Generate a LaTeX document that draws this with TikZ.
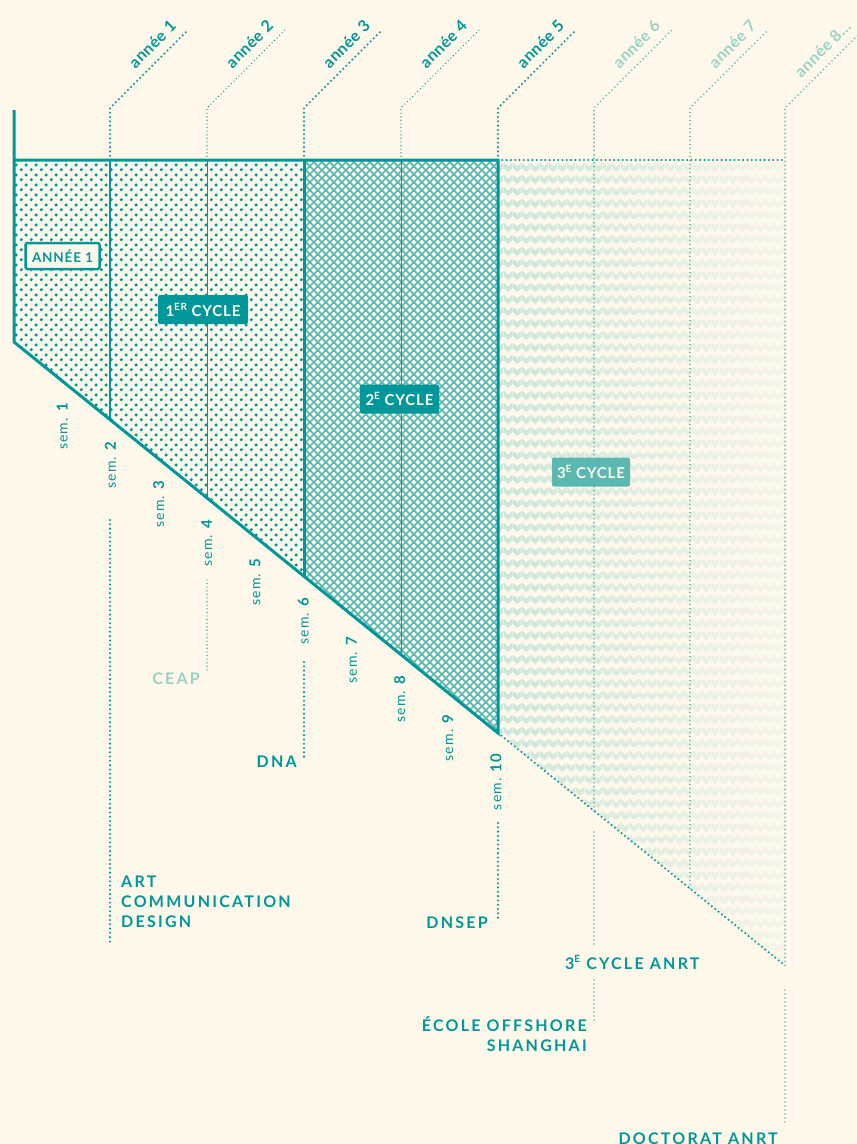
\documentclass[tikz,border=0pt]{standalone}
\usepackage{fontspec}
\setmainfont{Lato}
\newfontfamily\latoyear{Lato}[LetterSpace=3]
\newfontfamily\latosem{Lato}[LetterSpace=8]
\newfontfamily\latobox{Lato}[LetterSpace=6]
\newfontfamily\latocaps{Lato}[LetterSpace=14]
\usetikzlibrary{patterns.meta, fadings, positioning, calc}

\definecolor{cream}{HTML}{FEF8EA}
\definecolor{tealmain}{HTML}{00979A}
\definecolor{tealmid}{HTML}{5AB8B1}
\definecolor{teallight}{HTML}{9AD2C9}
\definecolor{tealpale}{HTML}{CBE6DC}

\newcommand\yearfont{\latoyear\bfseries\fontsize{16}{16}\selectfont}
\newcommand\semfont{\latosem\fontsize{14}{14}\selectfont}
\newcommand\boxfont{\latobox\bfseries\fontsize{15}{15}\selectfont}
\newcommand\diplofont{\latocaps\bfseries\fontsize{16}{20}\selectfont}
\newcommand\supx[1]{\raisebox{0.4em}{\fontsize{10}{10}\selectfont #1}}

% pattern tiles
\tikzdeclarepattern{
  name=dotgrid, type=uncolored,
  bottom left={(0pt,0pt)}, top right={(9.7pt,9.7pt)},
  tile size={(9.7pt,9.7pt)},
  code={\fill (2.4pt,2.4pt) circle (1.8pt); \fill (7.25pt,7.25pt) circle (1.8pt);}
}
\tikzdeclarepattern{
  name=diamonds, type=uncolored,
  bottom left={(0pt,0pt)}, top right={(8.3pt,8.3pt)},
  tile size={(8.3pt,8.3pt)},
  code={\draw[line width=1.9pt] (-1pt,-1pt) -- (9.3pt,9.3pt) (-1pt,9.3pt) -- (9.3pt,-1pt);}
}
\tikzdeclarepattern{
  name=chevrons, type=uncolored,
  bottom left={(0pt,0pt)}, top right={(8.7pt,12pt)},
  tile size={(8.7pt,12pt)},
  code={\fill (0pt,10pt) -- (4.35pt,6pt) -- (8.7pt,10pt) -- (8.7pt,4pt) -- (4.35pt,0pt) -- (0pt,4pt) -- cycle;}
}
\tikzfading[name=fadein, left color=transparent!100, right color=transparent!0]

\begin{document}
\begin{tikzpicture}[x=1pt, y=-1pt,
  thickrule/.style={tealmain, line width=3pt},
  thinrule/.style={tealmain, line width=1pt},
  dotrule/.style={tealmain, line width=2.3pt, line cap=round, dash pattern=on 0pt off 4.3pt},
  dotfine/.style={tealmain, line width=1.4pt, line cap=round, dash pattern=on 0pt off 3.6pt},
  dotpale/.style={tealmid, line width=1.9pt, line cap=round, dash pattern=on 0pt off 4pt},
  yearlbl/.style={font=\yearfont, rotate=45, anchor=south east, inner sep=0pt},
  semlbl/.style={font=\semfont, text=tealmain, rotate=90, anchor=east, inner sep=0pt},
  cyclebox/.style={fill=tealmain, text=cream, font=\boxfont, rounded corners=2pt,
                   minimum height=29pt, inner xsep=0pt},
  diploma/.style={font=\diplofont, text=tealmain, inner sep=0pt},
]
  \fill[cream] (0,0) rectangle (857,1144);
  \useasboundingbox (0,0) rectangle (857,1144);

  % corners of the shape
  \coordinate (topleft) at (14,160);
  \coordinate (corner) at (14,342);
  \coordinate (mid) at (304,576.3);
  \coordinate (apex) at (498,733);
  \coordinate (tip) at (785,965.5);

  % fills
  \fill[pattern=dotgrid, pattern color=tealmain] (topleft) -- (304,160) -- (mid) -- (corner) -- cycle;
  \fill[pattern=diamonds, pattern color=tealmid] (304,160) -- (498,160) -- (apex) -- (mid) -- cycle;
  \fill[pattern=chevrons, pattern color=tealpale] (498,160) -- (785,160) -- (tip) -- (apex) -- cycle;
  \fill[cream, path fading=fadein] (498,150) rectangle (845,975);

  % frame
  \draw[thickrule] (14,110) -- (corner) -- (apex) -- (498,160) -- (topleft);
  \draw[line width=2pt, tealmain] (110,160) -- (110,419.6);
  \draw[thinrule] (207,160) -- (207,497.9);
  \draw[thickrule] (304,160) -- (mid);
  \draw[thinrule] (401,160) -- (401,654.7);
  \draw[dotrule] (498,160) -- (785,160);
  \draw[dotrule] (apex) -- (tip);

  % years
  \foreach \k/\X/\Y/\sty/\ink/\txt in {1/110/160/dotrule/tealmain/1, 2/207/160/dotfine/tealmain/2,
      3/304/160/dotrule/tealmain/3, 4/401/160/dotfine/tealmain/4, 5/498/160/dotrule/tealmain/5,
      6/594/810.6/dotpale/teallight/6, 7/690/888.5/dotpale/teallight/7, 8/785/965.5/dotpale/teallight/{8...}} {
    \coordinate (kink\k) at (\X,108);
    \coordinate (end\k) at (\X+78,30);
    \draw[\sty] (\X,\Y) -- (kink\k) -- (end\k);
    \node[yearlbl, text=\ink] (an\k) at ($(end\k)+(-10.5,-2.5)$) {année \txt};
  }

  % semesters
  \foreach \i in {1,...,10}
    \node[semlbl] (sem\i) at ({14+48.2*\i},{364+38.94*\i}) {sem. {\bfseries\fontsize{15}{15}\selectfont\i}};

  % boxes
  \node[draw=tealmain, line width=2.5pt, fill=cream, text=tealmain,
        font=\latobox\bfseries\fontsize{13.5}{13.5}\selectfont,
        rounded corners=2pt, minimum width=74pt, minimum height=26pt, inner sep=0pt]
        (annee1) at (62.5,256) {ANNÉE 1};
  \node[cyclebox, minimum width=90pt] (cyc1) at (203,309.5) {1\supx{ER} CYCLE};
  \node[cyclebox, minimum width=79pt] (cyc2) at (399.5,399) {2\supx{E} CYCLE};
  \node[cyclebox, fill=tealmid, minimum width=78pt] (cyc3) at (591,472) {3\supx{E} CYCLE};

  % diplomas
  \coordinate (acdA) at (110,520);   \coordinate (acdB) at (110,943);
  \coordinate (ceapA) at (207,580);  \coordinate (ceapB) at (207,673);
  \coordinate (dnaA) at (304,662);   \coordinate (dnaB) at (304,757);
  \coordinate (dnsepA) at (498,823); \coordinate (dnsepB) at (498,918);
  \coordinate (anrtA) at (594,832);  \coordinate (anrtB) at (594,1020);
  \coordinate (doctA) at (785,990);  \coordinate (doctB) at (785,1122);
  \draw[dotrule] (acdA) -- (acdB);
  \draw[dotfine] (ceapA) -- (ceapB);
  \draw[dotrule] (dnaA) -- (dnaB);
  \draw[dotrule] (dnsepA) -- (dnsepB);
  \draw[dotpale] (anrtA) -- (anrtB);
  \draw[dotpale] (doctA) -- (doctB);

  \node[diploma, anchor=north west, align=left] (acd) at (121,876) {ART\\COMMUNICATION\\DESIGN};
  \node[diploma, anchor=base east, text=teallight] (ceap) at (200,684) {CEAP};
  \node[diploma, anchor=base east] (dna) at (297,767) {DNA};
  \node[diploma, anchor=base east] (dnsep) at (488,928) {DNSEP};
  \node[diploma, anchor=base west, fill=cream, inner ysep=8pt] (anrt) at (565,969) {3\supx{E} CYCLE ANRT};
  \node[diploma, anchor=north east, align=right] (offshore) at (587,1016) {ÉCOLE OFFSHORE\\SHANGHAI};
  \node[diploma, anchor=base east] (doct) at (778,1144) {DOCTORAT ANRT};
\end{tikzpicture}
\end{document}
